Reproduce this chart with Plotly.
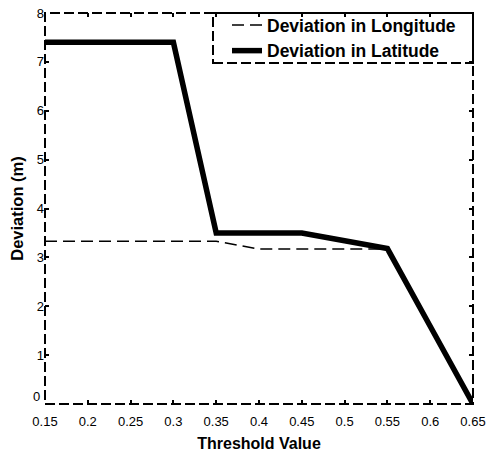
import plotly.graph_objects as go

threshold = [0.15, 0.2, 0.25, 0.3, 0.35, 0.4, 0.45, 0.5, 0.55, 0.6, 0.65]
dev_longitude = [3.33, 3.33, 3.33, 3.33, 3.33, 3.17, 3.17, 3.17, 3.17, 1.59, 0.0]
dev_latitude = [7.4, 7.4, 7.4, 7.4, 3.5, 3.5, 3.5, 3.34, 3.18, 1.59, 0.0]
x_ticks = [0.15, 0.2, 0.25, 0.3, 0.35, 0.4, 0.45, 0.5, 0.55, 0.6, 0.65]
x_tick_labels = ["0.15", "0.2", "0.25", "0.3", "0.35", "0.4", "0.45", "0.5", "0.55", "0.6", "0.65"]
y_ticks = [0, 1, 2, 3, 4, 5, 6, 7, 8]
y_tick_labels = ["", "1", "2", "3", "4", "5", "6", "7", "8"]

W, H = 489, 452
ml, mr, mt, mb = 45, 16, 13, 48

fig = go.Figure()
fig.add_trace(go.Scatter(
    x=threshold, y=dev_longitude, mode="lines", name="Deviation in Longitude",
    line=dict(color="black", width=1.5, dash="12px,6px"), cliponaxis=False))
fig.add_trace(go.Scatter(
    x=threshold, y=dev_latitude, mode="lines", name="Deviation in Latitude",
    line=dict(color="black", width=5.5), cliponaxis=False))

pw = W - ml - mr
ph = H - mt - mb

def px_x(p):
    return (p - ml) / pw

def px_y(p):
    return 1 - (p - mt) / ph

FONT = "Liberation Sans, Arial, sans-serif"

fig.update_layout(
    width=W, height=H,
    margin=dict(l=ml, r=mr, t=mt, b=mb, autoexpand=False),
    paper_bgcolor="white", plot_bgcolor="white",
    font=dict(family=FONT, color="black", size=13),
    showlegend=True,
    legend=dict(x=px_x(227), y=px_y(7), xanchor="left", yanchor="top",
                bgcolor="rgba(0,0,0,0)", borderwidth=0,
                font=dict(size=17.5, family=FONT, weight="bold"),
                tracegroupgap=0),
    xaxis=dict(range=[0.15, 0.65], tickvals=x_ticks, ticktext=x_tick_labels,
               ticks="inside", ticklen=4, tickwidth=2, tickcolor="black",
               showgrid=False, zeroline=False, showline=False, mirror="ticks",
               automargin=False, ticklabelstandoff=8,
               tickfont=dict(size=13),
               title=dict(text="Threshold Value", standoff=14,
                          font=dict(size=16, weight="bold"))),
    yaxis=dict(range=[0, 8], tickvals=y_ticks, ticktext=y_tick_labels,
               ticks="inside", ticklen=4, tickwidth=2, tickcolor="black",
               showgrid=False, zeroline=False, showline=False, mirror="ticks",
               automargin=False,
               tickfont=dict(size=13),
               title=dict(text="Deviation (m)", standoff=8,
                          font=dict(size=16.5, weight="bold"))),
    annotations=[
        dict(text="0", xref="paper", yref="y", x=0, y=0, xanchor="right",
             yanchor="bottom", xshift=-3, yshift=-2, showarrow=False,
             font=dict(size=13, family=FONT, color="black")),
    ],
    shapes=[
        dict(type="rect", xref="paper", yref="paper", x0=0, x1=1, y0=0, y1=1,
             line=dict(color="black", width=2, dash="10px,4px"), layer="above"),
        dict(type="rect", xref="paper", yref="paper",
             x0=px_x(213), x1=1, y0=px_y(63), y1=1,
             line=dict(color="black", width=2, dash="10px,4px"), layer="above"),
    ],
)

fig.write_html("out.html")
